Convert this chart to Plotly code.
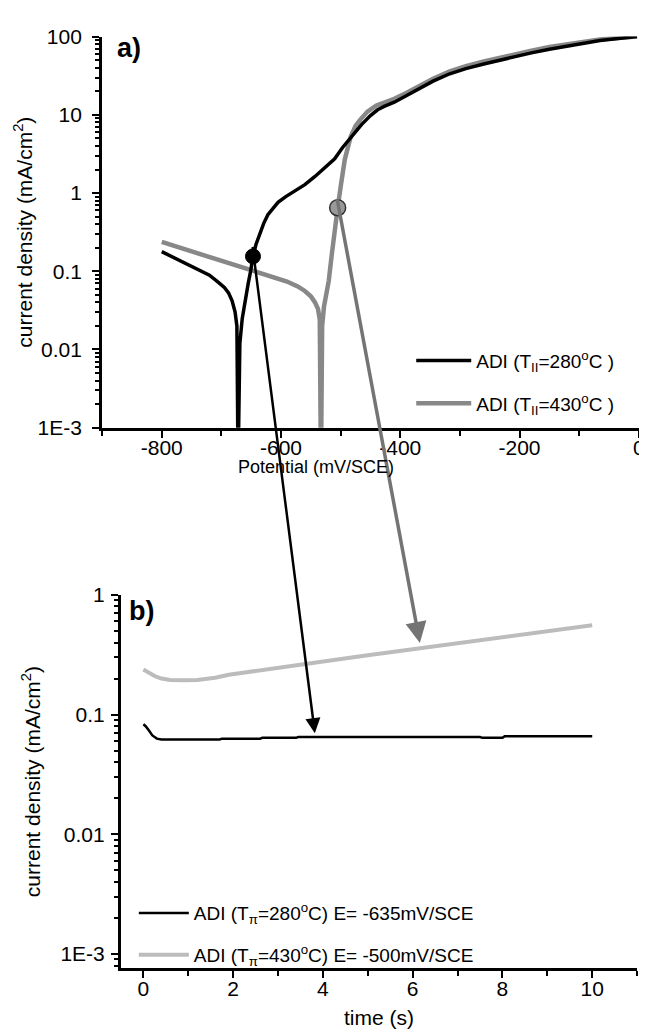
import math
import plotly.graph_objects as go

W, H = 647, 1032
OFF = 8  # the page body margin shifts the figure by this many pixels
FONT = "Arial, 'Liberation Sans', sans-serif"

# ---------------- Panel a) potentiodynamic curves ----------------
pot_280 = [-800, -780, -760, -740, -720, -705, -695, -688, -682, -677, -674, -672,
           -669, -665, -660, -655, -651, -647, -642, -636, -629, -622, -614, -605,
           -592, -577, -560, -543, -527, -510, -497, -483, -465, -450, -438, -427,
           -410, -390, -372, -345, -317, -290, -260, -230, -205, -180, -150, -120,
           -93, -65, -38, -15, -3]
cur_280 = [0.178, 0.15, 0.126, 0.106, 0.089, 0.072, 0.062, 0.053, 0.042, 0.03, 0.02, 0.0003,
           0.012, 0.025, 0.045, 0.07, 0.1, 0.155, 0.22, 0.3, 0.41, 0.53, 0.64, 0.76,
           0.9, 1.06, 1.28, 1.63, 2.1, 2.74, 3.8, 5.2, 7.5, 9.8, 11.6, 12.8,
           14.5, 17.5, 21, 27, 33.5, 39, 44.7, 51, 56, 62, 69, 76,
           83, 89, 94, 98, 100]

pot_430 = [-800, -760, -720, -680, -650, -620, -590, -572, -560, -550, -543, -538,
           -535, -533, -531, -528, -524, -520, -515, -510, -505, -500, -493, -483,
           -475, -467, -455, -440, -427, -410, -390, -372, -345, -317, -290, -260,
           -230, -205, -180, -150, -120, -93, -65, -38, -15, -3]
cur_430 = [0.237, 0.19, 0.155, 0.125, 0.106, 0.09, 0.074, 0.064, 0.056, 0.048, 0.04, 0.033,
           0.024, 0.0003, 0.02, 0.035, 0.05, 0.075, 0.16, 0.36, 0.65, 1.2, 2.7, 5.3,
           7.2, 8.7, 11, 13.2, 14.2, 16, 19, 22.7, 29, 36, 42, 48,
           54.5, 60, 66, 73.5, 80, 87, 92, 96, 99, 100]

# selected potentials (markers)
sel_pot_280, sel_cur_280 = [-647], [0.155]
sel_pot_430, sel_cur_430 = [-505], [0.65]

pot_ticks = [-800, -600, -400, -200, 0]
pot_ticktext = ["-800", "-600", "-400", "-200", "0"]
cur_ticks_a = [0.001, 0.01, 0.1, 1, 10, 100]
cur_ticktext_a = ["1E-3", "0.01", "0.1", "1", "10", "100"]

# ---------------- Panel b) potentiostatic curves ----------------
t_280 = [0, 0.05, 0.12, 0.2, 0.3, 0.4, 1.0, 1.7, 1.75, 2.6, 2.65, 3.4, 3.45, 5.0,
         7.5, 7.55, 8.0, 8.05, 10.0]
i_280 = [0.083, 0.08, 0.074, 0.067, 0.063, 0.062, 0.062, 0.062, 0.063, 0.063, 0.064,
         0.064, 0.065, 0.065, 0.065, 0.064, 0.064, 0.066, 0.066]

t_430 = [0, 0.1, 0.25, 0.4, 0.6, 0.9, 1.2, 1.6, 1.9, 2.3, 2.7, 3.1, 3.4, 3.8, 4.1,
         4.6, 5.0, 5.5, 6.1, 6.6, 7.2, 7.8, 8.3, 8.8, 9.2, 9.6, 10.0]
i_430 = [0.238, 0.225, 0.21, 0.2, 0.195, 0.194, 0.195, 0.203, 0.215, 0.226, 0.238,
         0.25, 0.26, 0.272, 0.282, 0.299, 0.313, 0.332, 0.356, 0.377, 0.404, 0.433,
         0.458, 0.485, 0.508, 0.532, 0.557]

cur_ticks_b = [0.001, 0.01, 0.1, 1]
cur_ticktext_b = ["1E-3", "0.01", "0.1", "1"]

# arrow heads in panel b (time, current)
tip_280 = (3.82, 0.070)
tip_430 = (6.16, 0.397)

# ---------------- geometry (screen pixels) ----------------
A_XPX, A_YPX = (103, 645), (25, 425)
B_XPX, B_YPX = (122, 643), (596, 978)
A_XR, A_YR = (-900, 0.5), (-3, 2)
B_XR, B_YR = (-0.5, 11), (-3.12, 0)


def px_x(p):
    return (p - OFF) / W


def px_y(p):
    return 1 - (p - OFF) / H


def to_px(x, y, xr, yr, xpx, ypx):
    px = xpx[0] + (x - xr[0]) / (xr[1] - xr[0]) * (xpx[1] - xpx[0])
    py = ypx[1] - (math.log10(y) - yr[0]) / (yr[1] - yr[0]) * (ypx[1] - ypx[0])
    return px, py


BLACK = "#000000"
GRAY_A = "#888888"
GRAY_B = "#bcbcbc"

fig = go.Figure()

fig.add_trace(go.Scatter(x=pot_430, y=cur_430, mode="lines",
                         line=dict(color=GRAY_A, width=4.5),
                         name="ADI (T<sub>II</sub>=430<sup>o</sup>C )",
                         legend="legend", legendrank=2, legendgroup="a2",
                         xaxis="x", yaxis="y"))
fig.add_trace(go.Scatter(x=pot_280, y=cur_280, mode="lines",
                         line=dict(color=BLACK, width=3.5),
                         name="ADI (T<sub>II</sub>=280<sup>o</sup>C )",
                         legend="legend", legendrank=1, legendgroup="a1",
                         xaxis="x", yaxis="y"))
fig.add_trace(go.Scatter(x=sel_pot_280, y=sel_cur_280, mode="markers",
                         marker=dict(color=BLACK, size=15, line=dict(color=BLACK, width=1)),
                         showlegend=False, xaxis="x", yaxis="y"))
fig.add_trace(go.Scatter(x=sel_pot_430, y=sel_cur_430, mode="markers",
                         marker=dict(color="#999999", size=16, line=dict(color="#333333", width=1.5)),
                         showlegend=False, xaxis="x", yaxis="y"))

fig.add_trace(go.Scatter(x=t_280, y=i_280, mode="lines",
                         line=dict(color=BLACK, width=2.5),
                         name="ADI (T<sub>π</sub>=280<sup>o</sup>C) E= -635mV/SCE",
                         legend="legend2", legendrank=1, legendgroup="b1",
                         xaxis="x2", yaxis="y2"))
fig.add_trace(go.Scatter(x=t_430, y=i_430, mode="lines",
                         line=dict(color=GRAY_B, width=4),
                         name="ADI (T<sub>π</sub>=430<sup>o</sup>C) E= -500mV/SCE",
                         legend="legend2", legendrank=2, legendgroup="b2",
                         xaxis="x2", yaxis="y2"))

# arrows from the marked points of panel a) to the curves of panel b)
annotations = []
for (sp, sc), tip, col, wid in [((sel_pot_280[0], sel_cur_280[0]), tip_280, BLACK, 2.5),
                                ((sel_pot_430[0], sel_cur_430[0]), tip_430, "#747474", 3.5)]:
    tx, ty = to_px(sp, sc, A_XR, A_YR, A_XPX, A_YPX)
    hx, hy = to_px(tip[0], tip[1], B_XR, B_YR, B_XPX, B_YPX)
    annotations.append(dict(x=tip[0], y=math.log10(tip[1]), xref="x2", yref="y2",
                            ax=tx - hx, ay=ty - hy, axref="pixel", ayref="pixel",
                            showarrow=True, arrowhead=2, arrowsize=1.2, arrowwidth=wid,
                            arrowcolor=col, standoff=0, startstandoff=0, text=""))

annotations += [
    dict(text="<b>a)</b>", x=px_x(130), y=px_y(37), xref="paper", yref="paper",
         xanchor="center", yanchor="middle", showarrow=False,
         font=dict(size=27, family=FONT, color="black")),
    dict(text="<b>b)</b>", x=px_x(143), y=px_y(612), xref="paper", yref="paper",
         xanchor="center", yanchor="middle", showarrow=False,
         font=dict(size=27, family=FONT, color="black")),
    dict(text="Potential (mV/SCE)", x=px_x(319), y=px_y(465), xref="paper", yref="paper",
         xanchor="center", yanchor="middle", showarrow=False,
         font=dict(size=18, family=FONT, color="black")),
]

axis_common = dict(showline=True, linewidth=3, linecolor="black", showgrid=False,
                   zeroline=False, ticks="outside", tickwidth=2, tickcolor="black",
                   ticklen=7, tickfont=dict(size=21, family=FONT, color="black"),
                   mirror=False)

fig.update_layout(
    width=W, height=H, autosize=False,
    margin=dict(l=0, r=0, t=0, b=0),
    paper_bgcolor="white", plot_bgcolor="white",
    font=dict(family=FONT, color="black"),
    xaxis=dict(**axis_common, domain=[px_x(A_XPX[0]), px_x(A_XPX[1])], anchor="y",
               range=list(A_XR), tickvals=pot_ticks, ticktext=pot_ticktext,
               minor=dict(ticks="outside", dtick=100, tick0=0, ticklen=5, tickwidth=2,
                          tickcolor="black", showgrid=False),
               ticklabelstandoff=-8),
    yaxis=dict(**axis_common, domain=[px_y(A_YPX[1]), px_y(A_YPX[0])], anchor="x",
               type="log", range=list(A_YR),
               tickvals=cur_ticks_a, ticktext=cur_ticktext_a,
               minor=dict(ticks="outside", dtick="D1", ticklen=4, tickwidth=1.5,
                          tickcolor="black", showgrid=False),
               ticklabelstandoff=6,
               title=dict(text="current density (mA/cm<sup>2</sup>)", standoff=0,
                          font=dict(size=21, family=FONT, color="black"))),
    xaxis2=dict(**axis_common, domain=[px_x(B_XPX[0]), px_x(B_XPX[1])], anchor="y2",
                range=list(B_XR), tick0=0, dtick=2,
                minor=dict(ticks="outside", dtick=1, tick0=0, ticklen=5, tickwidth=2,
                           tickcolor="black", showgrid=False),
                ticklabelstandoff=-8,
                title=dict(text="time (s)", standoff=12,
                           font=dict(size=21, family=FONT, color="black"))),
    yaxis2=dict(**axis_common, domain=[px_y(B_YPX[1]), px_y(B_YPX[0])], anchor="x2",
                type="log", range=list(B_YR),
                tickvals=cur_ticks_b, ticktext=cur_ticktext_b,
                minor=dict(ticks="outside", dtick="D1", ticklen=4, tickwidth=1.5,
                           tickcolor="black", showgrid=False),
                ticklabelstandoff=2,
                title=dict(text="current density (mA/cm<sup>2</sup>)", standoff=15,
                           font=dict(size=21, family=FONT, color="black"))),
    legend=dict(x=px_x(415), y=px_y(337), xanchor="left", yanchor="top",
                bgcolor="rgba(0,0,0,0)", borderwidth=0, tracegroupgap=15,
                itemwidth=55,
                font=dict(size=19, family=FONT, color="black")),
    legend2=dict(x=px_x(135), y=px_y(902), xanchor="left", yanchor="top",
                 bgcolor="rgba(0,0,0,0)", borderwidth=0, tracegroupgap=14,
                 itemwidth=50,
                 font=dict(size=19, family=FONT, color="black")),
    annotations=annotations,
    showlegend=True,
)

fig.write_html("out.html")
